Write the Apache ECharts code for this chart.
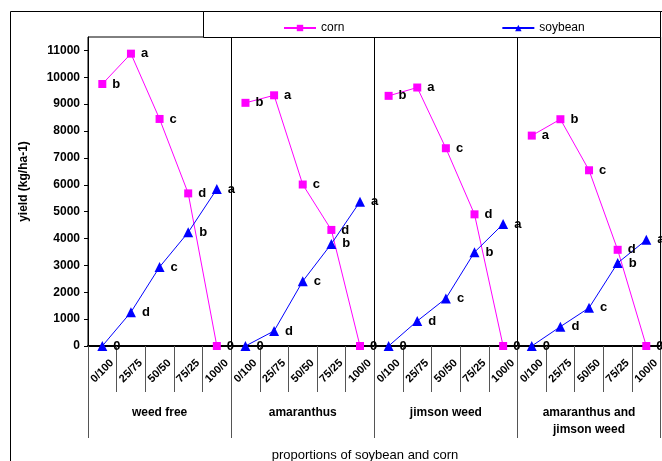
<!DOCTYPE html>
<html>
<head>
<meta charset="utf-8">
<script src="https://cdn.jsdelivr.net/npm/echarts@6/dist/echarts.min.js"></script>
<style>
    html, body { margin: 0; padding: 0; background: #fff; }
    #chart { width: 662px; height: 461px; }
</style>
</head>
<body>
<div id="chart"></div>
<script>
// proportions of soybean/corn within each weed treatment
const proportions = ['0/100', '25/75', '50/50', '75/25', '100/0'];
const treatments = ['weed free', 'amaranthus', 'jimson weed', 'amaranthus and\njimson weed'];

// yield (kg/ha-1), one row per treatment
const cornYield = [
    [9750, 10880, 8450, 5680, 0],
    [9050, 9330, 6010, 4320, 0],
    [9310, 9620, 7360, 4900, 0],
    [7830, 8440, 6540, 3580, 0]
];
const soybeanYield = [
    [0, 1260, 2940, 4230, 5840],
    [0, 560, 2410, 3800, 5370],
    [0, 930, 1770, 3490, 4540],
    [0, 720, 1420, 3090, 3950]
];

// significance letters shown next to each point
const cornLetters = [
    ['b', 'a', 'c', 'd', '0'],
    ['b', 'a', 'c', 'd', '0'],
    ['b', 'a', 'c', 'd', '0'],
    ['a', 'b', 'c', 'd', '0']
];
const soybeanLetters = [
    ['0', 'd', 'c', 'b', 'a'],
    ['0', 'd', 'c', 'b', 'a'],
    ['0', 'd', 'c', 'b', 'a'],
    ['0', 'd', 'c', 'b', 'a']
];

const yTicks = [0, 1000, 2000, 3000, 4000, 5000, 6000, 7000, 8000, 9000, 10000, 11000];

const FONT = 'Liberation Sans, Arial, sans-serif';

const categories = [];
treatments.forEach(() => proportions.forEach((p) => categories.push(p)));

const pointLabel = {
    show: true,
    position: 'right',
    distance: 6,
    color: '#000',
    fontFamily: FONT,
    fontWeight: 'bold',
    fontSize: 13,
    formatter: (p) => p.data.letter
};

/**
 * Builds one line segment per treatment so the lines break between groups.
 */
const buildSeries = (name, rows, letters, color, symbol, size) => rows.map((row, g) => ({
    name: name,
    type: 'line',
    xAxisIndex: 0,
    symbol: symbol,
    symbolSize: size,
    color: color,
    lineStyle: { color: color, width: 1 },
    itemStyle: { color: color },
    label: pointLabel,
    emphasis: { disabled: true },
    animation: false,
    data: row.map((v, i) => ({ value: [g * proportions.length + i, v], letter: letters[g][i] }))
}));

const chart = echarts.init(document.getElementById('chart'));

chart.setOption({
    animation: false,
    graphic: [
        {
            type: 'rect',
            z: -10,
            shape: { x: 10.5, y: 11.5, width: 760, height: 560 },
            style: { fill: null, stroke: '#000', lineWidth: 1 }
        },
        {
            type: 'rect',
            z: 1,
            shape: { x: 203.5, y: 11.5, width: 457, height: 26 },
            style: { fill: '#fff', stroke: '#000', lineWidth: 1 }
        },
        {
            type: 'text',
            x: 365,
            y: 455,
            style: {
                text: 'proportions of soybean and corn',
                fill: '#000',
                font: '13px ' + FONT,
                align: 'center',
                verticalAlign: 'middle'
            }
        }
    ],
    legend: {
        data: ['corn', 'soybean'],
        left: 278,
        top: 17,
        itemWidth: 32,
        itemHeight: 8,
        itemGap: 157,
        textStyle: { color: '#000', fontFamily: FONT, fontSize: 12 },
        selectedMode: false,
        z: 5
    },
    grid: {
        left: 88,
        top: 37,
        right: 0,
        bottom: 115,
        show: true,
        borderColor: '#000',
        borderWidth: 1
    },
    xAxis: [
        {
            type: 'category',
            data: categories,
            axisLine: { show: true, lineStyle: { color: '#000', width: 2 } },
            axisTick: { show: true, interval: 0, length: 46, lineStyle: { color: '#555', width: 1 } },
            axisLabel: {
                interval: 0,
                rotate: 45,
                align: 'center',
                verticalAlign: 'middle',
                margin: 25,
                color: '#000',
                fontFamily: FONT,
                fontWeight: 'bold',
                fontSize: 11
            },
            splitLine: { show: false }
        },
        {
            type: 'category',
            position: 'bottom',
            data: treatments,
            axisLine: { show: false },
            axisTick: { show: true, interval: 0, length: 92, lineStyle: { color: '#555', width: 1 } },
            axisLabel: {
                interval: 0,
                margin: 58,
                verticalAlign: 'top',
                lineHeight: 17,
                color: '#000',
                fontFamily: FONT,
                fontWeight: 'bold',
                fontSize: 12
            },
            splitLine: { show: true, interval: 0, lineStyle: { color: '#000', width: 1 } }
        }
    ],
    yAxis: {
        type: 'value',
        min: 0,
        max: 11500,
        interval: 1000,
        name: 'yield (kg/ha-1)',
        nameLocation: 'middle',
        nameGap: 58,
        nameTextStyle: { color: '#000', fontFamily: FONT, fontWeight: 'bold', fontSize: 12, padding: [0, 0, 0, 20] },
        axisLine: { show: true, lineStyle: { color: '#000' } },
        axisTick: { show: true, length: 4, customValues: yTicks, lineStyle: { color: '#000' } },
        axisLabel: {
            customValues: yTicks,
            margin: 8,
            color: '#000',
            fontFamily: FONT,
            fontWeight: 'bold',
            fontSize: 12,
            formatter: (v) => String(v)
        },
        splitLine: { show: false }
    },
    series: [
        ...buildSeries('corn', cornYield, cornLetters, '#ff00ff', 'rect', 8),
        ...buildSeries('soybean', soybeanYield, soybeanLetters, '#0000ff', 'triangle', 10)
    ]
});
</script>
</body>
</html>
